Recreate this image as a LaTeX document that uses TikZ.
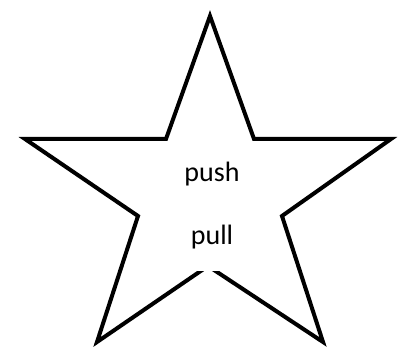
\documentclass[tikz,border=0pt]{standalone}
\usepackage{fontspec}
\setmainfont{Carlito}
\begin{document}
\begin{tikzpicture}[x=1pt,y=-1pt,
  starline/.style={draw=black,line width=4pt,line join=miter,miter limit=10},
  lbl/.style={font=\fontsize{28}{32}\selectfont,text=black,fill=white,inner sep=0pt,outer sep=0pt,anchor=base}]
\useasboundingbox[fill=white] (0,0) rectangle (400,350);
\coordinate (t) at (210,16);
\coordinate (ir) at (254,139);
\coordinate (r) at (391,139);
\coordinate (irb) at (282,216);
\coordinate (br) at (323,342);
\coordinate (b) at (208,266);
\coordinate (bl) at (97,342);
\coordinate (ilb) at (138,216);
\coordinate (l) at (25,139);
\coordinate (il) at (166,139);
\draw[starline] (t) -- (ir) -- (r) -- (irb) -- (br) -- (b) -- (bl) -- (ilb) -- (l) -- (il) -- cycle;
\node[lbl] (push) at (212,182) {push};
\node[lbl,text depth=26pt] (pull) at (212,245) {pull};
\end{tikzpicture}
\end{document}
